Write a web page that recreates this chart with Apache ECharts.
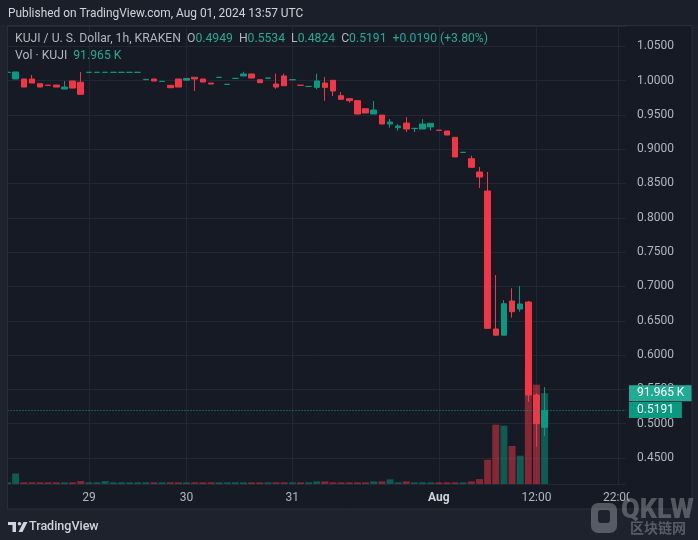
<!DOCTYPE html>
<html>
<head>
<meta charset="utf-8">
<script src="https://cdn.jsdelivr.net/npm/echarts@6/dist/echarts.min.js"></script>
<style>
html,body{margin:0;padding:0;background:#161a25;}
#c{width:698px;height:540px;}
</style>
</head>
<body>
<div id="c"></div>
<script>
// ---- DATA (hourly bars, KUJI/USD KRAKEN; first bar is cut by the left edge) ----
const opens  = [1.0119,1.0022,1.0022,1.0022,0.9953,0.9932,0.9934,0.9876,0.9993,0.9974,
                1.0119,1.0119,1.0119,1.0119,1.0119,1.0119,1.0119,1.0012,1.0022,0.9986,
                0.9930,1.0022,1.0005,1.0047,1.0022,0.9963,1.0045,0.9943,1.0030,1.0066,
                1.0095,1.0012,1.0034,0.9949,1.0066,1.0010,0.9932,0.9913,0.9900,0.9963,
                1.0003,0.9779,0.9735,0.9706,0.9589,0.9512,0.9497,0.9366,0.9312,0.9380,
                0.9301,0.9293,0.9323,0.9276,0.9264,0.9172,0.8952,0.8861,0.8667,0.8391,
                0.6380,0.6290,0.6788,0.6671,0.6773,0.5418,0.4949];
const closes = [1.0119,1.0124,0.9905,0.9963,0.9905,0.9929,0.9905,0.9905,0.9890,0.9799,
                1.0119,1.0119,1.0119,1.0119,1.0119,1.0119,1.0119,1.0017,0.9993,0.9988,
                0.9895,0.9905,1.0030,1.0022,0.9978,0.9949,1.0047,0.9945,1.0032,1.0095,
                1.0036,0.9968,1.0036,0.9905,0.9924,1.0012,0.9930,0.9915,0.9993,0.9900,
                0.9847,0.9726,0.9706,0.9512,0.9527,0.9570,0.9366,0.9395,0.9337,0.9293,
                0.9303,0.9366,0.9376,0.9274,0.9206,0.8886,0.8954,0.8735,0.8594,0.6390,
                0.6290,0.6748,0.6632,0.6744,0.5418,0.5001,0.5191];
const lows   = [1.0119,1.0022,0.9905,0.9963,0.9905,0.9929,0.9905,0.9876,0.9890,0.9799,
                1.0119,1.0119,1.0119,1.0119,1.0119,1.0119,1.0119,1.0012,0.9993,0.9986,
                0.9895,0.9905,1.0005,0.9847,0.9978,0.9949,1.0045,0.9943,1.0030,1.0066,
                1.0036,0.9968,1.0034,0.9880,0.9924,1.0010,0.9930,0.9913,0.9870,0.9706,
                0.9774,0.9726,0.9677,0.9512,0.9527,0.9512,0.9366,0.9312,0.9269,0.9250,
                0.9250,0.9293,0.9269,0.9274,0.9206,0.8886,0.8952,0.8735,0.8434,0.6390,
                0.6282,0.6290,0.6544,0.6632,0.5320,0.4665,0.4824];
const highs  = [1.0119,1.0124,1.0022,1.0080,0.9953,0.9932,0.9934,0.9993,0.9993,1.0124,
                1.0119,1.0119,1.0119,1.0119,1.0119,1.0119,1.0119,1.0017,1.0022,0.9988,
                0.9930,1.0022,1.0030,1.0047,1.0022,0.9963,1.0047,0.9945,1.0032,1.0128,
                1.0095,1.0012,1.0036,1.0099,1.0099,1.0012,0.9932,0.9915,1.0099,1.0050,
                1.0003,0.9832,0.9735,0.9706,0.9589,0.9701,0.9497,0.9439,0.9366,0.9468,
                0.9312,0.9439,0.9376,0.9276,0.9264,0.9172,0.8954,0.8904,0.8740,0.8667,
                0.7166,0.6802,0.6973,0.7006,0.6790,0.5443,0.5534];
const volumes = [1700,10700,1700,1700,1700,1700,1700,1700,1700,3000,
                 1700,1700,3000,1700,1700,1700,1700,1700,1700,1700,
                 1700,1700,1700,1700,1700,1700,1700,1700,1700,1700,
                 1700,1700,1700,1700,1700,1700,1700,1700,2700,2700,
                 1700,1700,1700,1700,1700,2700,2700,4700,1700,2700,
                 1700,1700,1700,1700,1700,1700,1700,2700,5000,24600,
                 60100,59100,38500,28700,115900,100700,91965];
const futureBars = 10;
const tickIndex = [10, 22, 35, 53, 65, 75];
const tickText  = ['29', '30', '31', 'Aug', '12:00', '22:00'];
const priceTicksStep = 0.05;
const lastPrice = 0.5191;
const lastVolume = 91965;
const lastVolumeText = '91.965 K';

// ---- build ----
const nCat = opens.length + futureBars;
const categories = [];
for (let k = 0; k < nCat; k++) {
  const t = tickIndex.indexOf(k);
  categories.push(t >= 0 ? tickText[t] : '#' + k);
}
const isTick = (idx) => tickIndex.indexOf(idx) >= 0;

const UP = '#089981', DOWN = '#f23645';
const candleData = opens.map((o, k) => [o, closes[k], lows[k], highs[k]]);
const volData = volumes.map((v, k) => ({
  value: v,
  itemStyle: { color: closes[k] >= opens[k] ? 'rgba(8,153,129,0.5)' : 'rgba(242,54,69,0.5)' }
}));

const chart = echarts.init(document.getElementById('c'), null, { renderer: 'canvas' });
const FONT = 'Roboto, "Noto Sans", sans-serif';
const GRIDC = '#232733';
const FS = '12.2px ';

chart.setOption({
  animation: false,
  backgroundColor: '#161a25',
  textStyle: { fontFamily: FONT },
  grid: { left: 7.5, right: 72, top: 26, bottom: 56, containLabel: false },
  xAxis: {
    type: 'category',
    data: categories,
    boundaryGap: false,
    axisLine: { show: false },
    axisTick: { show: false },
    axisLabel: {
      interval: (idx) => isTick(idx),
      color: '#b2b5be',
      fontSize: 12,
      margin: 8,
      fontFamily: FONT,
      formatter: (v) => v === 'Aug' ? '{b|Aug}' : v,
      rich: { b: { fontWeight: 'bold', color: '#d1d4dc', fontSize: 12, fontFamily: FONT } }
    },
    splitLine: { show: true, interval: (idx) => isTick(idx), lineStyle: { color: GRIDC, width: 1 } }
  },
  yAxis: [{
    type: 'value',
    position: 'right',
    min: 0.4122,
    max: 1.0794,
    splitNumber: 13,
    scale: true,
    axisLine: { show: false },
    axisTick: { show: false },
    axisLabel: {
      color: '#b2b5be', fontSize: 12, margin: 11, fontFamily: FONT,
      showMinLabel: false, showMaxLabel: false,
      formatter: (v) => (Math.abs(Math.round(v / priceTicksStep) * priceTicksStep - v) < 1e-6) ? v.toFixed(4) : ''
    },
    splitLine: { show: true, lineStyle: { color: GRIDC, width: 1 } }
  }, {
    type: 'value',
    min: 0,
    max: 464000,
    show: false,
    splitLine: { show: false }
  }],
  series: [{
    name: 'Vol',
    type: 'bar',
    yAxisIndex: 1,
    data: volData,
    barWidth: 7,
    z: 1,
    markLine: {
      silent: true,
      symbol: 'none',
      z: 10,
      data: [{ yAxis: lastVolume }],
      lineStyle: { color: 'rgba(0,0,0,0)', width: 1, type: 'solid' },
      label: {
        show: true, position: 'end', distance: 3,
        formatter: lastVolumeText, color: '#ffffff', fontSize: 12, lineHeight: 12,
        backgroundColor: '#22ab94', padding: [2, 8, 2, 8], fontFamily: FONT
      }
    }
  }, {
    name: 'KUJI',
    type: 'candlestick',
    data: candleData,
    barWidth: 6,
    z: 3,
    itemStyle: { color: UP, color0: DOWN, borderColor: UP, borderColor0: DOWN, borderWidth: 1 },
    markLine: {
      silent: true,
      symbol: 'none',
      data: [{ yAxis: lastPrice }],
      lineStyle: { color: UP, type: [1, 2], width: 1 },
      label: {
        show: true, position: 'end', distance: 3,
        formatter: lastPrice.toFixed(4), color: '#ffffff', fontSize: 12, lineHeight: 12,
        backgroundColor: UP, padding: [2, 8, 2, 8], fontFamily: FONT
      }
    }
  }],
  graphic: [
    // outer frame strips
    { type: 'rect', z: 100, shape: { x: 0, y: 0, width: 698, height: 25 }, style: { fill: '#1b1f2a' } },
    { type: 'rect', z: 100, shape: { x: 0, y: 25, width: 7, height: 515 }, style: { fill: '#1e222d' } },
    { type: 'rect', z: 100, shape: { x: 692, y: 25, width: 6, height: 515 }, style: { fill: '#1e222d' } },
    { type: 'rect', z: 100, shape: { x: 0, y: 509, width: 698, height: 31 }, style: { fill: '#1e222d' } },
    // clip time label at price-scale boundary
    { type: 'rect', z: 99, shape: { x: 629.5, y: 486, width: 62, height: 22 }, style: { fill: '#161a25' } },
    // frame border
    { type: 'rect', z: 101, shape: { x: 7.5, y: 25.5, width: 684.5, height: 483.5 }, style: { fill: null, stroke: '#2a2e39', lineWidth: 1 } },
    // header
    { type: 'text', z: 102, left: 8, top: 8, style: { text: 'Published on TradingView.com, Aug 01, 2024 13:57 UTC', fill: '#d1d4dc', font: '11.9px ' + FONT } },
    // legend
    { type: 'text', z: 102, left: 15, top: 33, style: {
        text: '{g|KUJI / U. S. Dollar, 1h, KRAKEN}  {g|O}{v|0.4949}  {g|H}{v|0.5534}  {g|L}{v|0.4824}  {g|C}{v|0.5191}  {v|+0.0190 (+3.80%)}',
        font: FS + FONT,
        rich: { g: { fill: '#b2b5be', font: FS + FONT }, v: { fill: '#22ab94', font: FS + FONT } }
      } },
    { type: 'text', z: 102, left: 15, top: 50, style: {
        text: '{g|Vol · KUJI}  {v|91.965 K}',
        font: FS + FONT,
        rich: { g: { fill: '#b2b5be', font: FS + FONT }, v: { fill: '#22ab94', font: FS + FONT } }
      } },
    // TradingView logo
    { type: 'rect', z: 102, shape: { x: 8, y: 522, width: 8, height: 3 }, style: { fill: '#d1d4dc' } },
    { type: 'rect', z: 102, shape: { x: 12.5, y: 522, width: 3.5, height: 10 }, style: { fill: '#d1d4dc' } },
    { type: 'circle', z: 102, shape: { cx: 19.5, cy: 523.7, r: 1.8 }, style: { fill: '#d1d4dc' } },
    { type: 'polygon', z: 102, shape: { points: [[23.5, 522], [27.5, 522], [22.5, 532], [18.5, 532]] }, style: { fill: '#d1d4dc' } },
    { type: 'text', z: 102, left: 29, top: 520, style: { text: 'TradingView', fill: '#d1d4dc', font: '500 12.5px ' + FONT } },
    // watermark
    { type: 'rect', z: 102, shape: { x: 591, y: 503, width: 26, height: 30, r: 7 }, style: { fill: 'rgba(170,172,178,0.42)' } },
    { type: 'rect', z: 103, shape: { x: 598, y: 510, width: 12, height: 13, r: 3 }, style: { fill: '#1e222d' } },
    { type: 'text', z: 102, left: 621, top: 498, style: { text: 'QKLW', fill: 'rgba(170,172,178,0.42)', font: '900 27px ' + FONT } },
    { type: 'text', z: 102, left: 630, top: 521, style: { text: '区块链网', fill: 'rgba(170,172,178,0.42)', font: 'bold 14px "Noto Sans CJK SC", sans-serif' } }
  ]
});
</script>
</body>
</html>
